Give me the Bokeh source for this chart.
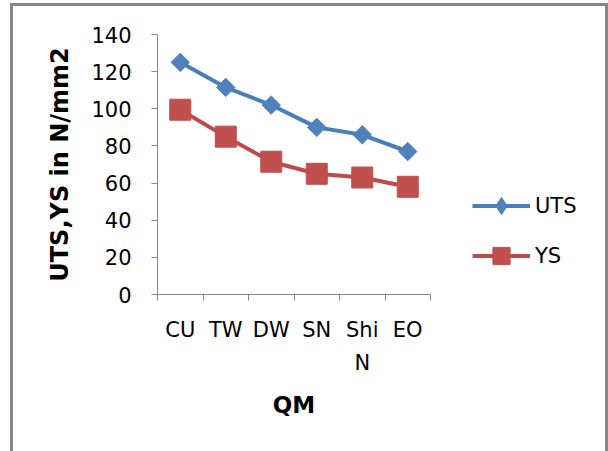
import numpy as np
from bokeh.plotting import figure
from bokeh.layouts import row
from bokeh.models import Range1d, FixedTicker, Legend, LegendItem
from bokeh.embed import file_html
from bokeh.resources import INLINE

categories = ["CU", "TW", "DW", "SN", "Shi\nN", "EO"]
uts = [125, 111.5, 102, 90, 86, 77]
ys = [99.5, 85, 71.5, 65, 63, 58]
y_ticks = [0, 20, 40, 60, 80, 100, 120, 140]
series_names = ["UTS", "YS"]

BLUE = "#4A7EBB"
BLUE_M = "#4F81BD"
RED = "#BE4B48"
RED_M = "#C0504D"
AXIS = "#868686"
FONT = "DejaVu Sans"

p = figure(width=440, height=451, output_backend="svg", toolbar_location=None,
           x_range=Range1d(0, len(categories)), y_range=Range1d(0, 140),
           min_border_left=157, min_border_right=10, min_border_top=34, min_border_bottom=157)
p.grid.visible = False
p.outline_line_color = None
p.background_fill_color = "white"
p.border_fill_alpha = 0

xs = [i + 0.5 for i in range(len(categories))]

p.line(xs, uts, line_color=BLUE, line_width=4)
p.scatter(xs, uts, marker="square", angle=np.pi / 4, size=13, fill_color=BLUE_M, line_color=BLUE_M)
p.line(xs, ys, line_color=RED, line_width=4)
p.scatter(xs, ys, marker="square", size=21, fill_color=RED_M, line_color=RED_M)

# axes
xa = p.xaxis[0]
xa.ticker = FixedTicker(ticks=xs, minor_ticks=list(range(len(categories) + 1)))
xa.major_label_overrides = {x: c for x, c in zip(xs, categories)}
xa.major_tick_line_color = None
xa.major_tick_out = 6
xa.major_tick_in = 0
xa.minor_tick_out = 6
xa.minor_tick_in = 0
xa.minor_tick_line_color = AXIS
xa.axis_line_color = AXIS
xa.major_label_standoff = 17
xa.major_label_text_font = FONT
xa.major_label_text_font_size = "21px"
xa.major_label_text_color = "black"
xa.major_label_text_line_height = 1.4
xa.axis_label = "QM"
xa.axis_label_text_font = FONT
xa.axis_label_text_font_style = "bold"
xa.axis_label_text_font_size = "23px"
xa.axis_label_standoff = 14
xa.axis_label_text_color = "black"

ya = p.yaxis[0]
ya.ticker = FixedTicker(ticks=y_ticks)
ya.major_tick_out = 6
ya.major_tick_in = 0
ya.major_tick_line_color = AXIS
ya.minor_tick_line_color = None
ya.axis_line_color = AXIS
ya.major_label_standoff = 20
ya.major_label_text_font = FONT
ya.major_label_text_font_size = "21px"
ya.major_label_text_color = "black"
ya.axis_label = "UTS,YS in N/mm2"
ya.axis_label_text_font = FONT
ya.axis_label_text_font_style = "bold"
ya.axis_label_text_font_size = "24px"
ya.axis_label_standoff = 14
ya.axis_label_text_color = "black"

# legend panel (separate figure so the legend is not clipped)
lf = figure(width=168, height=451, output_backend="svg", toolbar_location=None,
            x_range=Range1d(0, 1), y_range=Range1d(0, 1), min_border=0)
lf.axis.visible = False
lf.grid.visible = False
lf.outline_line_color = None
lf.background_fill_alpha = 0
lf.border_fill_alpha = 0

ll1 = lf.line([np.nan], [np.nan], line_color=BLUE, line_width=4)
lm1 = lf.scatter([np.nan], [np.nan], marker="diamond", fill_color=BLUE_M, line_color=BLUE_M)
ll2 = lf.line([np.nan], [np.nan], line_color=RED, line_width=4)
lm2 = lf.scatter([np.nan], [np.nan], marker="square", fill_color=RED_M, line_color=RED_M)

legend = Legend(items=[LegendItem(label=series_names[0], renderers=[ll1, lm1]),
                       LegendItem(label=series_names[1], renderers=[ll2, lm2])],
                location=(32, 17), padding=0, margin=0, spacing=7,
                glyph_width=58, glyph_height=43, label_standoff=5,
                border_line_color=None, background_fill_alpha=0,
                label_text_font=FONT, label_text_font_size="21px", label_text_color="black")
lf.add_layout(legend, "center")

G = "linear-gradient(#878787,#878787)"
layout = row(p, lf, spacing=0,
             styles={"background": f"{G} 10px 3px / 3px 460px no-repeat, "
                                   f"{G} 10px 3px / 598px 3px no-repeat, "
                                   f"{G} 605px 3px / 3px 460px no-repeat, white"})

open("out.html", "w").write(file_html(layout, INLINE))
